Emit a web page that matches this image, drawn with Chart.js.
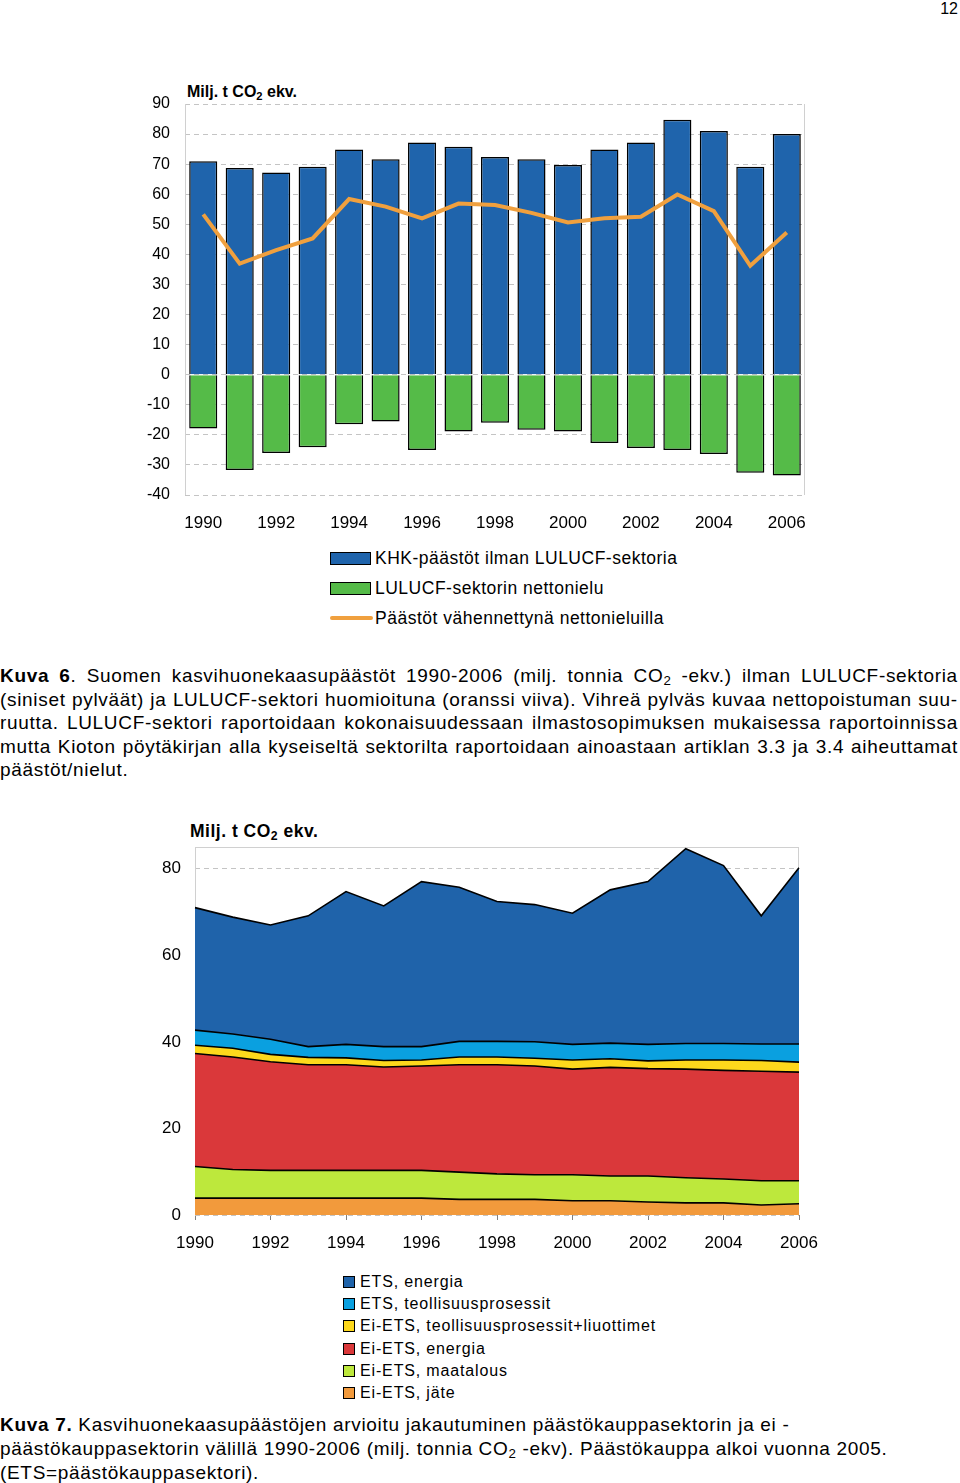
<!DOCTYPE html>
<html>
<head>
<meta charset="utf-8">
<script src="https://cdn.jsdelivr.net/npm/chart.js@4"></script>
<style>
  body { margin: 0; background: #fff; font-family: "Liberation Sans", Arial, sans-serif; color: #000; }
  #page { position: relative; width: 960px; height: 1483px; overflow: hidden; }
  canvas { position: absolute; }
  .abs { position: absolute; white-space: nowrap; }
  .unit { font-weight: bold; }
  .unit sub, .cap sub { font-size: 0.7em; vertical-align: -0.25em; line-height: 0; }
  .cap { position: absolute; left: 0; width: 958px; font-size: 19px; letter-spacing: 0.68px; }
  .cap div { white-space: nowrap; }
  .cap .j { display: flex; justify-content: space-between; }
  .leg { position: absolute; }
  .leg .row { position: relative; white-space: nowrap; }
  .leg .sw { position: absolute; box-sizing: border-box; border: 1.5px solid #000; }
</style>
</head>
<body>
<div id="page">
  <div class="abs" style="right:2px; top:0; font-size:16px;">12</div>

  <div class="abs unit" style="left:187px; top:83px; font-size:16px;">Milj. t CO<sub>2</sub> ekv.</div>
  <canvas id="top" width="690" height="460" style="left:130px; top:80px;"></canvas>
  <div id="legTop" class="leg" style="left:330px; top:543px; font-size:17.5px; letter-spacing:0.5px;"></div>

  <div class="cap" style="top:664px; line-height:23.5px;">
    <div class="j"><b>Kuva</b> <b>6</b>. Suomen kasvihuonekaasupäästöt 1990-2006 (milj. tonnia CO<sub>2</sub> -ekv.) ilman LULUCF-sektoria</div>
    <div class="j">(siniset pylväät) ja LULUCF-sektori huomioituna (oranssi viiva). Vihreä pylväs kuvaa nettopoistuman suu-</div>
    <div class="j">ruutta. LULUCF-sektori raportoidaan kokonaisuudessaan ilmastosopimuksen mukaisessa raportoinnissa</div>
    <div class="j">mutta Kioton pöytäkirjan alla kyseiseltä sektorilta raportoidaan ainoastaan artiklan 3.3 ja 3.4 aiheuttamat</div>
    <div>päästöt/nielut.</div>
  </div>

  <div class="abs unit" style="left:190px; top:821px; font-size:17.5px; letter-spacing:0.5px;">Milj. t CO<sub>2</sub> ekv.</div>
  <canvas id="bottom" width="690" height="440" style="left:130px; top:830px;"></canvas>
  <div id="legBottom" class="leg" style="left:343px; top:1271px; font-size:16px; letter-spacing:0.85px;"></div>

  <div class="cap" style="top:1413px; line-height:24px;">
    <div><b>Kuva 7.</b> Kasvihuonekaasupäästöjen arvioitu jakautuminen päästökauppasektorin ja ei -</div>
    <div>päästökauppasektorin välillä 1990-2006 (milj. tonnia CO<sub>2</sub> -ekv). Päästökauppa alkoi vuonna 2005.</div>
    <div>(ETS=päästökauppasektori).</div>
  </div>
</div>

<script>
// years on both charts
const years = ['1990', '1991', '1992', '1993', '1994', '1995', '1996', '1997', '1998',
  '1999', '2000', '2001', '2002', '2003', '2004', '2005', '2006'];

// Kuva 6
const khkLabel = 'KHK-päästöt ilman LULUCF-sektoria';
const lulucfLabel = 'LULUCF-sektorin nettonielu';
const nettoLabel = 'Päästöt vähennettynä nettonieluilla';
const khk = [71.0, 68.7, 67.2, 69.1, 74.9, 71.6, 77.2, 75.8, 72.4, 71.6, 69.7, 74.9, 77.2, 84.8, 81.0, 69.1, 80.0];
const lulucf = [-17.9, -31.7, -26.0, -24.1, -16.5, -15.6, -25.0, -18.9, -16.0, -18.3, -18.9, -22.7, -24.4, -25.0, -26.4, -32.6, -33.5];
const netto = [53.3, 36.9, 41.4, 45.3, 58.4, 55.9, 52.0, 56.9, 56.4, 53.8, 50.6, 52.0, 52.5, 59.9, 54.4, 36.2, 47.3];

// Kuva 7 (bottom layer first)
const areaLabels = ['Ei-ETS, jäte', 'Ei-ETS, maatalous', 'Ei-ETS, energia',
  'Ei-ETS, teollisuusprosessit+liuottimet', 'ETS, teollisuusprosessit', 'ETS, energia'];
const jate = [3.9, 3.9, 3.9, 3.9, 3.9, 3.9, 3.9, 3.6, 3.6, 3.6, 3.3, 3.3, 3.0, 2.8, 2.8, 2.3, 2.6];
const maatalous = [7.3, 6.6, 6.4, 6.4, 6.4, 6.4, 6.4, 6.3, 5.9, 5.7, 6.0, 5.7, 6.0, 5.8, 5.5, 5.6, 5.3];
const eiEtsEnergia = [26.1, 26.0, 25.1, 24.4, 24.4, 23.9, 24.1, 24.8, 25.2, 25.1, 24.4, 25.1, 24.8, 25.1, 25.1, 25.3, 25.1];
const eiEtsTeoll = [1.9, 2.0, 1.7, 1.7, 1.6, 1.5, 1.4, 1.8, 1.8, 1.8, 2.1, 2.0, 1.8, 2.1, 2.4, 2.5, 2.3];
const etsTeoll = [3.5, 3.3, 3.5, 2.5, 3.1, 3.2, 3.1, 3.6, 3.6, 3.8, 3.6, 3.6, 3.8, 3.8, 3.8, 3.8, 4.2];
const etsEnergia = [28.3, 27.0, 26.4, 30.2, 35.3, 32.5, 38.1, 35.6, 32.3, 31.7, 30.3, 35.4, 37.6, 45.0, 41.1, 29.6, 40.7];

const topTicks = [90, 80, 70, 60, 50, 40, 30, 20, 10, 0, -10, -20, -30, -40];
const bottomTicks = [0, 20, 40, 60, 80];

const BLUE = '#1f64ac', GREEN = '#55bb48', ORANGE = '#f0a03e';
const areaColors = ['#f29a3c', '#bde83c', '#da383a', '#fdd81c', '#0aa0e0', '#1f63aa'];

Chart.defaults.font.family = "'Liberation Sans', Arial, sans-serif";
Chart.defaults.color = '#000';
Chart.defaults.animation = false;

// spread the words of a justified caption line over the full width
document.querySelectorAll('.cap .j').forEach(el => {
  el.innerHTML = el.innerHTML.trim().split(/\s+/).map(w => '<span>' + w + '</span>').join('');
});

// light grey frame round the plot area
const frame = {
  id: 'frame',
  beforeDatasetsDraw(chart, args, opts) {
    const a = chart.chartArea, ctx = chart.ctx;
    ctx.save();
    ctx.strokeStyle = '#d0d0d0';
    ctx.lineWidth = 1;
    ctx.beginPath();
    if (opts.top) { ctx.moveTo(a.left, a.top + 0.5); ctx.lineTo(a.right, a.top + 0.5); }
    ctx.moveTo(a.left + 0.5, a.top); ctx.lineTo(a.left + 0.5, a.bottom);
    ctx.moveTo(a.right - 0.5, a.top); ctx.lineTo(a.right - 0.5, a.bottom);
    ctx.stroke();
    ctx.restore();
  }
};

const everyOther = (v, i) => (i % 2 === 0 ? years[i] : '');
const noPadX = s => { s.paddingLeft = 0; s.paddingRight = 0; };
const noPadY = s => { s.paddingTop = 0; s.paddingBottom = 0; };

new Chart(document.getElementById('top'), {
  type: 'bar',
  plugins: [frame],
  data: {
    labels: years,
    datasets: [
      { type: 'line', label: nettoLabel, data: netto, borderColor: ORANGE, borderWidth: 4,
        pointRadius: 0, tension: 0, order: 0 },
      { label: khkLabel, data: khk, backgroundColor: BLUE, borderColor: '#000', borderWidth: 1.5,
        barPercentage: 0.77, categoryPercentage: 1, order: 1 },
      { label: lulucfLabel, data: lulucf, backgroundColor: GREEN, borderColor: '#000', borderWidth: 1.5,
        barPercentage: 0.77, categoryPercentage: 1, order: 1 }
    ]
  },
  options: {
    responsive: false,
    devicePixelRatio: 1,
    layout: { padding: { top: 24, right: 15, left: 0, bottom: 0 } },
    plugins: { legend: { display: false }, tooltip: { enabled: false }, frame: { top: false } },
    scales: {
      x: {
        stacked: true,
        grid: { display: false },
        border: { display: false },
        ticks: { autoSkip: false, maxRotation: 0, padding: 10, font: { size: 17 }, callback: everyOther },
        afterFit: s => { s.height = 45; noPadX(s); }
      },
      y: {
        min: -40, max: 90,
        afterBuildTicks: s => { s.ticks = topTicks.map(v => ({ value: v })); },
        grid: { color: '#c4c4c4', drawTicks: false },
        border: { display: false, dash: [5, 4] },
        ticks: { padding: 15, font: { size: 16 } },
        afterFit: s => { s.width = 55; noPadY(s); }
      }
    }
  }
});

const areaData = [jate, maatalous, eiEtsEnergia, eiEtsTeoll, etsTeoll, etsEnergia];

new Chart(document.getElementById('bottom'), {
  type: 'line',
  plugins: [frame],
  data: {
    labels: years,
    datasets: areaData.map((d, i) => ({
      label: areaLabels[i], data: d,
      backgroundColor: areaColors[i], borderColor: '#000', borderWidth: 1.6,
      fill: i === 0 ? 'origin' : '-1', pointRadius: 0, tension: 0
    }))
  },
  options: {
    responsive: false,
    devicePixelRatio: 1,
    layout: { padding: { top: 17, right: 21, left: 0, bottom: 0 } },
    plugins: { legend: { display: false }, tooltip: { enabled: false }, frame: { top: true } },
    scales: {
      x: {
        offset: false,
        grid: { drawOnChartArea: false, tickLength: 5, color: (c) => (c.index % 2 === 0 ? '#808080' : 'rgba(0,0,0,0)') },
        border: { display: false },
        ticks: { autoSkip: false, maxRotation: 0, padding: 13, font: { size: 17 }, callback: everyOther },
        afterFit: s => { s.height = 55; noPadX(s); }
      },
      y: {
        stacked: true,
        min: 0, max: 85,
        afterBuildTicks: s => { s.ticks = bottomTicks.map(v => ({ value: v })); },
        grid: { color: '#c4c4c4', drawTicks: false },
        border: { display: false, dash: [5, 4] },
        ticks: { padding: 14, font: { size: 17 } },
        afterFit: s => { s.width = 65; noPadY(s); }
      }
    }
  }
});

// legends (plain text, built from the same labels and colours)
function legendRow(parent, text, sw, height) {
  const row = document.createElement('div');
  row.className = 'row';
  row.style.height = height + 'px';
  row.style.lineHeight = height + 'px';
  row.appendChild(sw);
  const t = document.createElement('span');
  t.textContent = text;
  row.appendChild(t);
  parent.appendChild(row);
}

const legTop = document.getElementById('legTop');
[[khkLabel, BLUE], [lulucfLabel, GREEN]].forEach(([txt, col]) => {
  const sw = document.createElement('div');
  sw.className = 'sw';
  Object.assign(sw.style, { left: '0px', top: '9px', width: '41px', height: '13px', background: col });
  legendRow(legTop, txt, sw, 30);
});
{
  const sw = document.createElement('div');
  Object.assign(sw.style, { position: 'absolute', left: '0px', top: '13px', width: '43px', height: '4px', background: ORANGE, borderRadius: '2px' });
  legendRow(legTop, nettoLabel, sw, 30);
}
legTop.querySelectorAll('span').forEach(s => { s.style.paddingLeft = '45px'; });

const legBottom = document.getElementById('legBottom');
for (let i = areaLabels.length - 1; i >= 0; i--) {
  const sw = document.createElement('div');
  sw.className = 'sw';
  Object.assign(sw.style, { left: '0px', top: '5px', width: '12px', height: '12px', background: areaColors[i] });
  legendRow(legBottom, areaLabels[i], sw, 22.2);
}
legBottom.querySelectorAll('span').forEach(s => { s.style.paddingLeft = '17px'; });
</script>
</body>
</html>
